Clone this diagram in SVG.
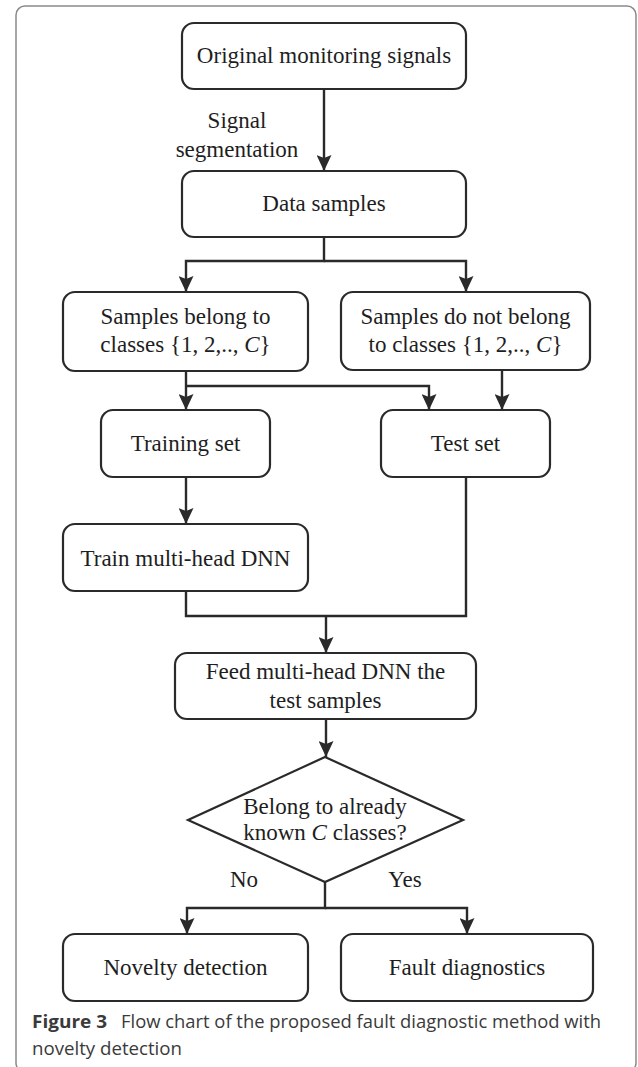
<svg xmlns="http://www.w3.org/2000/svg" width="638" height="1067" viewBox="0 0 638 1067">
<style>
.box{fill:#fff;stroke:#2a2a2a;stroke-width:2.2}
.t{font-family:"Liberation Serif","Times New Roman",serif;font-size:23px;fill:#1e1e1e;text-anchor:middle}
.c{fill:none;stroke:#2a2a2a;stroke-width:2.4}
.cap{font-family:"Open Sans","Noto Sans",sans-serif;font-size:18.5px;fill:#3a3a3a}
</style>
<defs>
<marker id="ah" markerUnits="userSpaceOnUse" markerWidth="16" markerHeight="15" refX="16" refY="7.5" orient="auto" viewBox="0 0 16 15">
<path d="M0,0 L16,7.5 L0,15 L3,7.5 z" fill="#2a2a2a"/>
</marker>
</defs>
<rect x="16" y="6" width="620" height="1066" rx="9" fill="#fff" stroke="#8a8a8a" stroke-width="1.5"/>
<g id="connectors">
<path class="c" d="M324,89 V171" marker-end="url(#ah)"/>
<path class="c" d="M324,237 V261 H186 V292" marker-end="url(#ah)"/>
<path class="c" d="M324,261 H466 V292" marker-end="url(#ah)"/>
<path class="c" d="M186,371 V410" marker-end="url(#ah)"/>
<path class="c" d="M186,386 H429 V410" marker-end="url(#ah)"/>
<path class="c" d="M502,370 V410" marker-end="url(#ah)"/>
<path class="c" d="M186,477 V524" marker-end="url(#ah)"/>
<path class="c" d="M186,591 V616 H466 V477"/>
<path class="c" d="M326,616 V653" marker-end="url(#ah)"/>
<path class="c" d="M326,719 V757" marker-end="url(#ah)"/>
<path class="c" d="M325,882 V908 H187 V934" marker-end="url(#ah)"/>
<path class="c" d="M325,908 H467 V934" marker-end="url(#ah)"/>
<text class="t" x="237" y="128">Signal</text>
<text class="t" x="237" y="157">segmentation</text>
<text class="t" x="244" y="887">No</text>
<text class="t" x="405" y="887">Yes</text>
</g>
<g id="n1"><rect class="box" x="182" y="23" width="284" height="66" rx="12"/><text class="t" x="324" y="63">Original monitoring signals</text></g>
<g id="n2"><rect class="box" x="182" y="171" width="284" height="66" rx="12"/><text class="t" x="324" y="211">Data samples</text></g>
<g id="n3"><rect class="box" x="63" y="292" width="245" height="79" rx="12"/><text class="t" x="185.5" y="324">Samples belong to</text><text class="t" x="185.5" y="352">classes {1, 2,.., <tspan font-style="italic">C</tspan>}</text></g>
<g id="n4"><rect class="box" x="341" y="292" width="249" height="78" rx="12"/><text class="t" x="465.5" y="324">Samples do not belong</text><text class="t" x="465.5" y="352">to classes {1, 2,.., <tspan font-style="italic">C</tspan>}</text></g>
<g id="n5"><rect class="box" x="101" y="410" width="169" height="67" rx="12"/><text class="t" x="185.5" y="451">Training set</text></g>
<g id="n6"><rect class="box" x="381" y="410" width="169" height="67" rx="12"/><text class="t" x="465.5" y="451">Test set</text></g>
<g id="n7"><rect class="box" x="63" y="524" width="245" height="67" rx="12"/><text class="t" x="185.5" y="566">Train multi-head DNN</text></g>
<g id="n8"><rect class="box" x="175" y="653" width="301" height="66" rx="12"/><text class="t" x="325.5" y="679">Feed multi-head DNN the</text><text class="t" x="325.5" y="708">test samples</text></g>
<g id="n9"><polygon class="box" points="325,757 463,820 325,882 188,820"/><text class="t" x="325" y="814">Belong to already</text><text class="t" x="325" y="840">known <tspan font-style="italic">C</tspan> classes?</text></g>
<g id="n10"><rect class="box" x="63" y="934" width="245" height="67" rx="12"/><text class="t" x="185.5" y="975">Novelty detection</text></g>
<g id="n11"><rect class="box" x="341" y="934" width="252" height="67" rx="12"/><text class="t" x="467" y="975">Fault diagnostics</text></g>
<g id="caption">
<text class="cap" x="32" y="1028" font-weight="bold" fill="#222" textLength="75" lengthAdjust="spacingAndGlyphs">Figure 3</text>
<text class="cap" x="121" y="1028" textLength="480" lengthAdjust="spacingAndGlyphs">Flow chart of the proposed fault diagnostic method with</text>
<text class="cap" x="32" y="1055" textLength="150" lengthAdjust="spacingAndGlyphs">novelty detection</text>
</g>
</svg>
